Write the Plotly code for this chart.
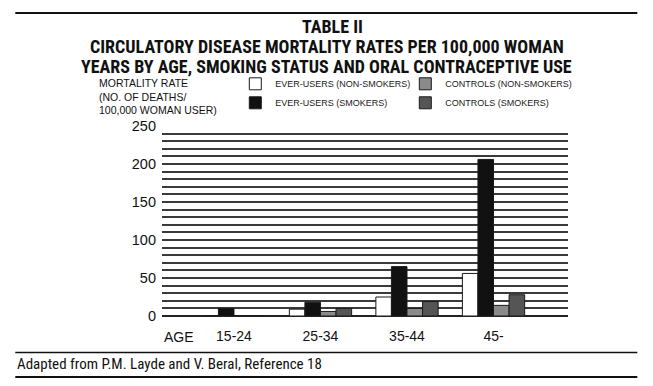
import plotly.graph_objects as go

# ---- data ----
age_groups = ["15-24", "25-34", "35-44", "45-"]
ever_users_nonsmokers = [0, 9, 25, 56]
ever_users_smokers = [10, 18, 65, 206]
controls_nonsmokers = [0, 6, 10, 14]
controls_smokers = [0, 10, 19, 28]
y_ticks = [0, 50, 100, 150, 200, 250]

series = [
    ("EVER-USERS (NON-SMOKERS)", ever_users_nonsmokers, "#ffffff", "legend", 1),
    ("EVER-USERS (SMOKERS)", ever_users_smokers, "#111111", "legend", 2),
    ("CONTROLS (NON-SMOKERS)", controls_nonsmokers, "#8a8a8a", "legend2", 3),
    ("CONTROLS (SMOKERS)", controls_smokers, "#555555", "legend2", 4),
]

W, H = 653, 386
L, R, T, B = 161.7, 567.7, 125.7, 315.7
PW, PH = R - L, B - T

def px(x):
    return (x - L) / PW

def py(y):
    return (B - y) / PH

fig = go.Figure()
for name, vals, col, leg, rank in series:
    fig.add_trace(go.Bar(
        x=age_groups, y=vals, name=name, legend=leg, legendrank=rank,
        marker=dict(color=col, line=dict(color="#1a1a1a", width=1)),
    ))

BODY = "Liberation Sans, Arial, sans-serif"
COND = "Roboto Condensed, Open Sans Condensed, sans-serif"

fig.update_layout(
    width=W, height=H,
    margin=dict(l=L, r=W - R, t=T, b=H - B, pad=0, autoexpand=False),
    paper_bgcolor="white", plot_bgcolor="white",
    barmode="group", bargap=0.28, bargroupgap=0,
    font=dict(family=BODY, color="#111111"),
    showlegend=True,
    legend=dict(x=px(235), y=py(69), xanchor="left", yanchor="top",
                orientation="v", font=dict(size=9, family=BODY, color="#222"),
                bgcolor="rgba(0,0,0,0)", tracegroupgap=0, itemwidth=30),
    legend2=dict(x=px(405), y=py(69), xanchor="left", yanchor="top",
                 orientation="v", font=dict(size=9, family=BODY, color="#222"),
                 bgcolor="rgba(0,0,0,0)", tracegroupgap=0, itemwidth=30),
    xaxis=dict(range=[-0.832, 3.861], showgrid=False, showline=False, zeroline=False,
               ticks="", tickfont=dict(size=14, family=BODY, color="#111"),
               ticklabelstandoff=10),
    yaxis=dict(range=[0, 250], tickvals=y_ticks, showgrid=True, gridcolor="#3a3a3a",
               gridwidth=1.5, zeroline=True, zerolinecolor="#222", zerolinewidth=2,
               showline=False, ticks="", tickfont=dict(size=14.5, family=BODY, color="#111"),
               ticklabelstandoff=5,
               minor=dict(dtick=10, showgrid=True, gridcolor="#3a3a3a", gridwidth=1.5)),
)

ann = []
ann.append(dict(text="<b>TABLE II</b>", x=px(332), y=py(26), xref="paper", yref="paper",
                xanchor="center", yanchor="middle", showarrow=False, borderpad=0,
                font=dict(size=18, family=COND, color="#111")))
ann.append(dict(text="<b>CIRCULATORY DISEASE MORTALITY RATES PER 100,000 WOMAN</b>",
                x=px(327), y=py(46), xref="paper", yref="paper",
                xanchor="center", yanchor="middle", showarrow=False, borderpad=0,
                font=dict(size=18, family=COND, color="#111")))
ann.append(dict(text="<b>YEARS BY AGE, SMOKING STATUS AND ORAL CONTRACEPTIVE USE</b>",
                x=px(326), y=py(66.5), xref="paper", yref="paper",
                xanchor="center", yanchor="middle", showarrow=False, borderpad=0,
                font=dict(size=18, family=COND, color="#111")))
ann.append(dict(text="MORTALITY RATE<br>(NO. OF DEATHS/<br>100,000 WOMAN USER)",
                x=px(98), y=py(96), xref="paper", yref="paper", align="left",
                xanchor="left", yanchor="middle", showarrow=False, borderpad=0,
                font=dict(size=10.5, family=BODY, color="#111")))
ann.append(dict(text="AGE", x=px(162), y=py(337), xref="paper", yref="paper",
                xanchor="left", yanchor="middle", showarrow=False,
                font=dict(size=14, family=BODY, color="#111")))
ann.append(dict(text="Adapted from P.M. Layde and V. Beral, Reference 18", x=px(15), y=py(364),
                xref="paper", yref="paper", xanchor="left", yanchor="middle", showarrow=False,
                font=dict(size=15, family=COND, color="#111")))
fig.update_layout(annotations=ann)

shapes = []
for yy, lw in [(12.7, 2), (352.3, 1.5), (376.7, 2)]:
    shapes.append(dict(type="line", xref="paper", yref="paper", x0=px(15), x1=px(637),
                       y0=py(yy), y1=py(yy), line=dict(color="#111", width=lw)))
fig.update_layout(shapes=shapes)

fig.write_html("out.html", config={"displayModeBar": False},
               post_script="document.body.style.margin='0';")
